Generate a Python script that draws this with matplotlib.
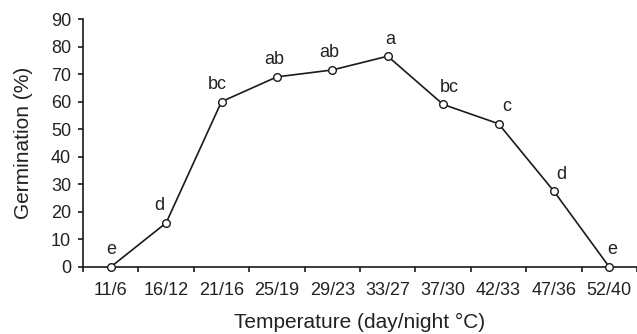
import numpy as np
import matplotlib.pyplot as plt

plt.rcParams['font.family'] = ['Liberation Sans', 'DejaVu Sans']

temps = ['11/6', '16/12', '21/16', '25/19', '29/23', '33/27', '37/30', '42/33', '47/36', '52/40']
germ = [0, 16, 60, 69, 71.5, 76.5, 59, 52, 27.5, 0]
letters = ['e', 'd', 'bc', 'ab', 'ab', 'a', 'bc', 'c', 'd', 'e']
# horizontal nudge of the letter labels (pixels)
nudge = [1, -7, -4, -3, -3, 3, 6, 8, 7, 3]

txt = '#222222'

fig = plt.figure(figsize=(6.37, 3.34), dpi=100)
ax = fig.add_axes([0.1303, 0.2006, 0.8697, 0.7425])

xpos = np.arange(len(temps)) + 0.5
ax.plot(xpos, germ, color='#1a1a1a', lw=1.2, marker='o', ms=5.5,
        mfc='white', mec='#1a1a1a', mew=1.0, clip_on=False, zorder=3)

for x, y, lab, dx in zip(xpos, germ, letters, nudge):
    ax.annotate(lab, (x, y), xytext=(dx, 17), textcoords='offset pixels',
                ha='center', va='center', fontsize=13, color=txt)

ax.set_xlim(0, len(temps))
ax.set_ylim(0, 90)
ax.set_yticks(range(0, 91, 10))
ax.set_xticks(np.arange(len(temps) + 1))
ax.set_xticklabels([])
ax.set_xticks(xpos, minor=True)
ax.set_xticklabels(temps, minor=True)
ax.tick_params(axis='x', which='minor', length=0, pad=10.5, labelsize=13, labelcolor=txt)
ax.tick_params(axis='x', which='major', length=3.6, width=1.2, color='#1a1a1a')
ax.tick_params(axis='y', length=3.6, width=1.2, color='#1a1a1a', labelsize=13,
               labelcolor=txt, pad=5)

for s in ['top', 'right']:
    ax.spines[s].set_visible(False)
for s in ['left', 'bottom']:
    ax.spines[s].set_linewidth(1.2)
    ax.spines[s].set_color('#1a1a1a')

ax.set_ylabel('Germination (%)', fontsize=15, color=txt, labelpad=13)
ax.set_xlabel('Temperature (day/night \u00b0C)', fontsize=15, color=txt, labelpad=10)

fig.savefig('out.png', dpi=100)
